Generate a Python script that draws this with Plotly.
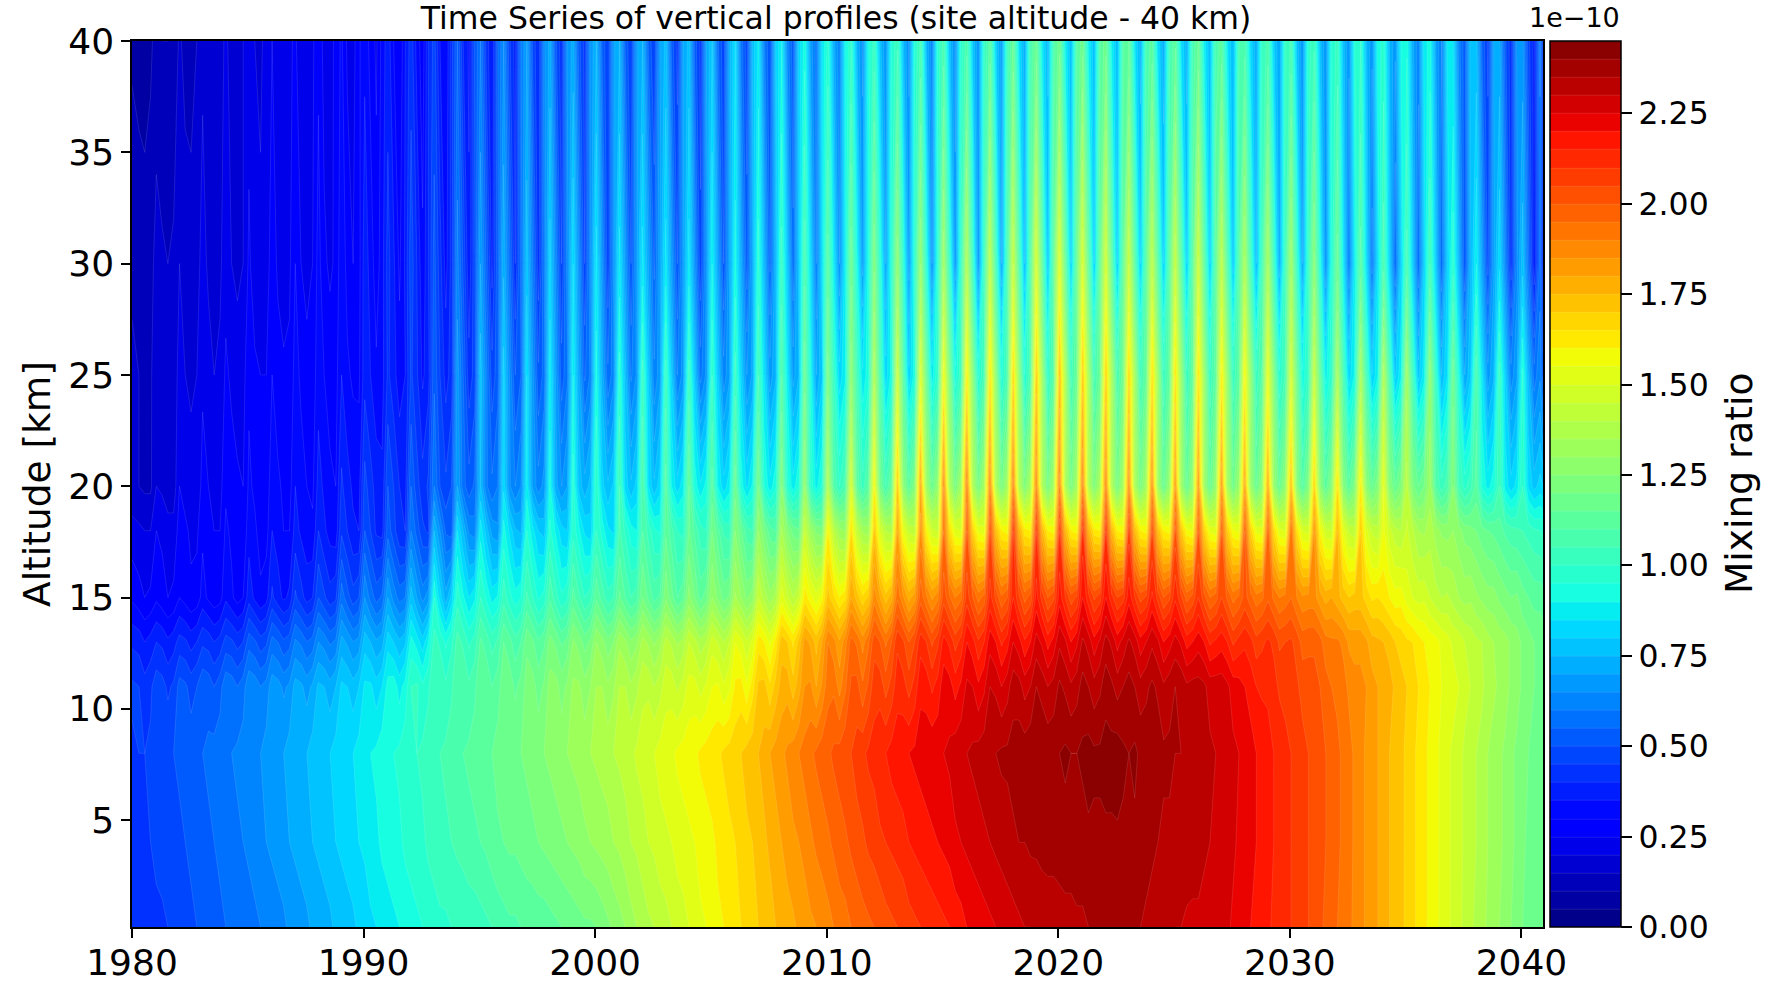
import plotly.graph_objects as go

title_text = "Time Series of vertical profiles (site altitude - 40 km)"
y_title = "Altitude [km]"
cb_title = "Mixing ratio"
cb_exp = "1e\u221210"
x_ticks = [1980, 1990, 2000, 2010, 2020, 2030, 2040]
y_ticks = [5, 10, 15, 20, 25, 30, 35, 40]
cb_ticks = [0, 0.25, 0.5, 0.75, 1.0, 1.25, 1.5, 1.75, 2.0, 2.25]

years = list(range(1980, 2041))
phases = [0.05, 0.30, 0.55, 0.80]
times = [y + p for y in years for p in phases] + [2040.93]
times[0] = 1980.0

altitudes = [0.2, 4, 8, 11, 13, 15, 18, 20, 25, 30, 40]

# values in units of 1e-12, four per year, 1980 -> 2040 plus the right edge
z_0km = [42,42,43,43, 44,44,45,46, 47,48,49,50, 51,52,53,54, 55,56,56,57, 58,59,60,61, 62,63,64,66, 67,68,69,71, 72,73,74,76, 77,78,79,81,
 82,84,85,87, 88,89,90,92, 93,94,95,97, 98,99,99,100, 101,101,102,102, 103,104,105,107, 108,109,109,110, 111,111,112,112, 113,114,115,116, 117,118,119,119,
 120,122,124,126, 128,130,133,135, 137,139,140,142, 143,145,147,148, 150,152,154,155, 157,159,160,162, 163,165,167,168, 170,172,173,175, 176,178,179,181, 182,184,185,187,
 188,190,192,193, 195,196,198,199, 200,201,203,204, 205,206,208,209, 210,211,212,213, 214,215,217,218, 220,221,222,223, 224,225,226,227, 228,229,230,230, 231,231,232,232,
 233,233,233,234, 234,235,235,235, 236,236,236,236, 236,235,235,234, 233,232,231,231, 230,230,229,229, 229,228,228,227, 227,226,224,223, 222,220,219,217, 216,214,213,211,
 210,208,206,205, 203,201,199,197, 195,193,191,189, 187,184,182,180, 177,175,173,171, 169,166,164,161, 159,156,154,151, 149,146,144,141, 139,137,134,132, 130,128,125,123,
 120,118,117,116, 115]
z_4km = [43,44,44,45, 46,47,48,48, 49,50,51,52, 53,54,55,56, 57,58,59,60, 61,62,63,65, 66,67,68,70, 71,72,73,75, 76,77,78,80, 81,82,83,85,
 86,88,89,91, 92,93,94,96, 97,98,99,101, 102,103,104,105, 106,107,108,109, 110,111,113,114, 115,116,116,117, 118,119,120,121, 122,123,124,125, 126,127,129,130,
 131,132,133,135, 136,138,140,141, 143,145,146,148, 149,150,152,153, 154,155,157,158, 159,161,162,164, 165,167,169,170, 172,174,176,178, 180,182,184,185, 187,189,191,192,
 194,196,198,199, 201,203,204,206, 207,209,210,211, 212,213,215,216, 217,218,219,220, 221,222,224,225, 226,227,228,229, 230,231,232,233, 234,235,235,236, 236,237,237,237,
 237,238,238,238, 238,239,239,239, 239,239,239,239, 239,239,238,237, 236,235,234,234, 233,233,233,232, 232,231,230,229, 228,227,226,224, 223,221,220,218, 217,215,214,212,
 210,209,207,205, 204,202,200,198, 196,194,192,189, 187,184,182,180, 177,175,173,171, 169,166,164,161, 159,156,154,151, 149,147,144,142, 140,138,135,133, 131,129,126,124,
 121,119,118,117, 116]
z_8km = [44,45,45,46, 47,48,49,50, 51,52,53,54, 55,56,57,58, 59,60,61,62, 63,64,65,67, 68,69,70,72, 73,74,75,77, 78,79,80,82, 83,84,85,87,
 88,90,91,93, 94,95,96,98, 99,100,101,103, 104,105,106,108, 109,110,111,112, 113,114,115,117, 118,119,119,120, 121,122,123,125, 126,127,128,130, 131,132,133,135,
 136,137,138,140, 141,142,144,146, 147,149,150,152, 153,154,156,157, 158,159,161,162, 163,164,166,167, 168,170,172,173, 175,177,180,182, 184,186,188,190, 192,194,196,198,
 199,201,202,204, 205,207,209,211, 212,214,215,217, 218,219,220,221, 222,223,224,224, 225,226,228,229, 230,231,232,233, 234,235,236,236, 237,238,238,239, 239,240,239,239,
 240,241,240,240, 241,242,241,241, 242,242,243,241, 240,241,239,238, 237,238,236,236, 235,235,234,233, 233,232,231,230, 229,228,226,225, 223,222,220,219, 217,215,214,212,
 210,209,207,205, 204,202,200,198, 196,194,192,189, 187,184,182,180, 177,175,173,171, 169,166,164,161, 159,156,154,151, 149,147,144,142, 140,138,135,133, 131,129,126,124,
 121,120,118,117, 116]
z_11km = [46,45,42,44, 48,47,44,46, 52,51,48,50, 54,53,50,53, 59,58,55,58, 64,63,60,62, 68,67,64,66, 72,71,68,71, 76,75,72,75, 81,80,77,80,
 86,86,82,85, 92,93,88,92, 100,101,96,99, 105,105,101,104, 110,110,106,109, 114,114,110,113, 118,118,114,117, 122,122,118,121, 127,127,123,126, 131,131,127,130,
 135,135,131,134, 140,140,136,139, 144,144,140,143, 148,148,144,147, 152,152,148,151, 155,156,151,154, 161,162,156,163, 171,172,166,172, 177,178,172,178, 185,186,180,186,
 193,194,188,194, 201,202,196,201, 208,208,203,207, 213,212,208,212, 219,218,214,217, 223,222,218,221, 226,225,221,224, 230,229,225,228, 233,232,228,230, 235,233,230,232,
 236,234,231,233, 237,235,232,234, 238,236,233,235, 237,235,232,234, 236,234,231,233, 235,234,231,232, 232,231,228,228, 228,226,223,222, 220,218,215,214, 214,212,209,208,
 208,206,203,202, 202,200,197,195, 194,192,189,187, 187,185,182,180, 179,177,174,172, 170,168,165,163, 160,158,155,153, 152,150,147,145, 143,141,138,136, 134,132,129,127,
 124,122,120,119, 118]
z_13km = [39,38,35,37, 40,39,36,38, 42,41,38,40, 44,43,40,42, 47,46,43,45, 53,51,47,49, 57,55,51,53, 61,59,55,57, 65,63,59,61, 72,69,65,67,
 78,75,71,73, 83,80,76,79, 92,88,82,90, 102,99,94,99, 107,104,99,102, 111,108,103,106, 115,112,107,110, 119,116,111,114, 122,119,114,117, 126,123,118,121,
 130,127,122,125, 134,131,126,129, 137,134,129,133, 142,139,134,137, 145,142,137,140, 148,145,140,145, 155,152,146,152, 163,160,154,162, 173,170,164,172, 182,179,173,180,
 190,187,181,188, 197,194,188,194, 203,200,194,200, 209,206,200,205, 213,210,204,209, 217,214,208,212, 220,217,211,215, 223,220,214,218, 225,222,216,220, 227,224,218,222,
 229,226,220,224, 231,228,222,226, 232,229,223,227, 231,228,222,225, 229,226,220,223, 227,224,218,220, 223,220,214,216, 218,215,209,212, 214,212,207,209, 211,209,204,205,
 206,203,198,199, 199,197,192,191, 191,189,184,183, 183,181,177,176, 175,173,170,168, 166,165,162,160, 158,157,154,152, 149,148,145,143, 141,140,137,135, 133,132,129,127,
 124,122,120,119, 118]
z_15km = [29,27,25,26, 29,27,25,26, 30,28,26,27, 32,29,27,28, 34,31,28,30, 38,34,31,33, 41,37,34,36, 46,42,38,40, 50,46,42,44, 58,52,47,50,
 65,58,53,56, 70,63,58,60, 78,70,63,68, 95,83,72,82, 98,91,85,89, 100,94,88,91, 103,97,92,95, 106,100,94,97, 109,102,96,99, 112,106,100,103,
 114,108,102,105, 116,110,105,108, 120,114,108,111, 124,117,110,114, 127,120,113,118, 130,124,118,121, 136,130,124,128, 145,138,132,137, 153,146,140,146, 163,157,152,158,
 172,166,160,164, 180,173,166,171, 188,180,172,178, 194,186,178,183, 198,191,184,189, 203,196,190,194, 208,200,193,197, 212,204,196,200, 215,206,198,202, 217,208,200,204,
 218,210,202,206, 220,212,204,208, 220,212,205,208, 218,210,203,206, 216,208,200,204, 214,206,198,202, 210,202,195,198, 205,199,193,196, 202,197,192,194, 199,194,190,192,
 195,190,186,187, 187,182,178,180, 177,173,170,172, 172,168,164,165, 163,160,157,158, 153,150,148,149, 145,142,140,141, 138,135,133,134, 131,129,127,127, 124,122,120,121,
 117,115,113,113, 112]
z_18km = [22,21,20,20, 25,24,22,22, 27,26,24,24, 29,27,25,25, 31,29,26,26, 33,31,28,28, 35,33,30,30, 37,34,32,31, 40,36,33,32, 44,40,36,35,
 50,45,39,38, 53,47,41,40, 60,53,46,44, 75,65,54,52, 85,75,64,62, 88,78,68,66, 92,84,76,74, 95,87,80,78, 96,89,82,80, 98,91,84,82,
 100,93,86,84, 106,99,92,90, 110,103,96,94, 114,107,100,98, 116,109,102,100, 120,112,104,102, 125,116,107,105, 130,121,112,110, 136,125,118,116, 145,132,124,122,
 160,141,132,130, 165,144,134,132, 172,150,140,138, 180,155,144,142, 187,160,147,145, 195,166,152,150, 200,169,154,152, 205,174,160,158, 210,178,162,160, 210,176,160,158,
 210,176,160,158, 212,178,162,160, 210,176,160,158, 208,175,160,158, 205,174,160,158, 202,172,157,155, 200,169,154,152, 200,170,156,154, 200,169,154,152, 198,167,152,150,
 195,165,150,148, 185,159,147,145, 175,154,144,142, 170,152,144,142, 156,147,142,140, 146,141,135,134, 138,133,129,128, 130,127,123,122, 120,117,115,114, 112,109,107,106,
 105,103,101,100, 99]
z_20km = [16,15,14,14, 20,19,17,17, 25,23,22,21, 27,25,24,23, 29,27,26,25, 31,29,28,27, 33,31,29,28, 35,32,30,29, 37,34,31,30, 41,37,34,33,
 47,42,38,36, 50,45,40,38, 55,47,42,46, 60,50,46,50, 70,57,52,56, 76,61,56,60, 84,66,60,65, 88,69,62,67, 92,72,65,70, 97,78,72,77,
 100,82,76,81, 105,83,76,82, 110,85,76,83, 112,90,82,88, 115,93,86,92, 112,90,82,88, 118,93,84,91, 120,95,87,94, 125,97,87,95, 130,99,88,96,
 138,110,100,108, 150,114,102,112, 160,119,105,116, 172,127,112,124, 182,133,116,129, 190,138,120,134, 192,138,120,134, 190,138,120,134, 192,140,122,136, 190,138,120,134,
 192,138,120,134, 192,140,122,136, 190,138,120,134, 188,137,120,134, 188,133,115,130, 185,133,115,129, 185,133,115,129, 185,135,118,131, 182,132,115,128, 180,131,115,128,
 175,126,110,123, 170,127,112,124, 165,125,112,123, 162,127,115,124, 155,125,115,123, 142,122,115,120, 132,110,102,108, 125,105,98,103, 112,94,88,93, 105,88,82,87,
 100,84,78,82, 80]
z_25km = [16,15,14,14, 19,17,16,17, 22,20,19,20, 24,22,20,21, 26,24,22,23, 29,26,25,25, 30,27,26,26, 32,29,27,27, 33,30,28,28, 35,31,29,29,
 38,35,31,33, 41,37,32,35, 46,41,34,38, 54,45,38,42, 68,55,42,47, 78,62,47,53, 82,65,50,55, 85,67,51,57, 88,69,52,59, 90,71,54,61,
 92,73,56,63, 97,77,59,66, 102,80,61,68, 102,80,60,67, 102,79,58,66, 100,80,62,69, 102,82,65,71, 105,85,67,74, 110,88,68,75, 118,93,70,79,
 122,101,82,89, 128,106,86,93, 138,108,82,92, 146,112,81,93, 152,118,87,99, 158,123,92,103, 162,126,94,106, 165,128,94,107, 168,129,95,108, 172,133,98,111,
 175,137,103,116, 172,136,104,116, 170,136,106,118, 168,134,103,115, 166,132,101,113, 165,131,101,113, 165,131,101,113, 162,130,101,112, 160,129,101,111, 155,124,96,106,
 150,119,91,101, 145,115,88,98, 136,107,82,91, 136,106,80,90, 138,107,79,89, 133,104,78,88, 128,100,75,85, 118,93,70,79, 108,86,67,74, 102,81,62,69,
 96,75,57,64, 52]
z_30km = [14,13,12,13, 17,16,15,16, 20,18,17,18, 22,19,18,19, 23,20,19,20, 26,22,21,22, 28,24,22,24, 30,25,23,25, 32,26,24,26, 34,28,25,28,
 38,33,27,33, 42,36,29,36, 48,40,31,40, 52,42,33,42, 62,49,36,49, 70,54,38,54, 74,57,40,57, 78,60,42,60, 82,63,45,63, 85,65,45,65,
 87,66,46,66, 87,68,50,68, 87,70,54,70, 87,68,50,68, 87,66,46,66, 90,70,50,70, 92,72,52,72, 97,75,54,75, 102,79,56,79, 108,84,60,84,
 112,88,65,88, 118,93,68,93, 124,97,70,97, 128,98,68,98, 130,97,65,97, 134,100,66,100, 138,102,66,102, 142,106,70,106, 145,110,75,110, 150,114,78,114,
 152,116,80,116, 150,115,80,115, 148,114,80,114, 145,112,80,112, 142,111,80,111, 144,112,80,112, 146,113,80,113, 142,110,78,110, 136,105,75,105, 135,103,72,103,
 133,101,70,101, 126,95,65,95, 117,88,60,88, 112,85,58,85, 108,81,55,81, 107,81,55,81, 105,80,55,80, 98,74,50,74, 90,69,48,69, 84,63,42,63,
 78,57,36,57, 42]
z_40km = [9,8,8,9, 12,10,10,11, 16,13,13,15, 19,16,15,18, 21,18,17,20, 23,20,19,22, 25,21,20,24, 26,21,20,24, 29,23,22,27, 31,24,23,29,
 34,28,24,32, 38,30,25,35, 43,33,27,40, 47,35,30,43, 55,40,34,51, 60,43,35,55, 65,46,38,60, 70,49,40,64, 72,51,42,66, 72,52,43,66,
 75,54,45,69, 75,54,45,69, 75,54,45,69, 77,53,43,70, 77,53,43,70, 80,56,46,73, 85,58,47,77, 87,61,50,80, 90,63,52,82, 93,68,58,86,
 97,72,62,90, 100,75,64,93, 102,77,66,95, 104,76,64,96, 106,75,62,97, 107,77,64,98, 108,79,66,100, 112,81,68,103, 116,85,72,107, 117,87,74,108,
 118,89,76,110, 118,89,76,110, 118,89,76,110, 115,86,73,107, 112,84,72,104, 114,85,73,106, 116,88,76,108, 112,86,75,105, 108,83,72,101, 107,81,70,100,
 106,78,66,98, 104,77,66,96, 102,77,66,95, 100,76,66,93, 97,75,66,91, 94,72,62,88, 92,70,60,86, 85,62,52,78, 77,54,44,70, 72,51,42,66,
 67,47,38,61, 45]

rows = [z_0km, z_4km, z_8km, z_11km, z_13km, z_15km, z_18km, z_20km, z_25km, z_30km, z_40km]
for r in rows:
    assert len(r) == len(times), len(r)
z = [[v / 100 for v in r] for r in rows]

jet = [[0, "rgb(0,0,127)"], [0.11, "rgb(0,0,255)"], [0.125, "rgb(0,0,255)"], [0.34, "rgb(0,219,255)"],
       [0.35, "rgb(0,230,247)"], [0.375, "rgb(21,255,226)"], [0.64, "rgb(239,255,8)"], [0.65, "rgb(247,245,0)"],
       [0.66, "rgb(255,236,0)"], [0.89, "rgb(255,19,0)"], [0.91, "rgb(232,0,0)"], [1, "rgb(127,0,0)"]]

fig = go.Figure(go.Contour(
    x=times, y=altitudes, z=z,
    colorscale=jet, zauto=False, zmin=0, zmax=2.45,
    autocontour=False,
    contours=dict(start=0, end=2.45, size=0.05, coloring="fill", showlines=True),
    line=dict(color="rgba(255,255,255,0.22)", width=0.5, smoothing=0),
    hoverinfo="skip",
    colorbar=dict(
        x=1.005, xanchor="left", xpad=0, y=0, yanchor="bottom", ypad=0, len=1, lenmode="fraction",
        thickness=71, thicknessmode="pixels",
        outlinewidth=1.5, outlinecolor="black",
        ticks="outside", ticklen=11, tickwidth=1.5, tickcolor="black",
        tickmode="array", tickvals=cb_ticks, ticktext=[f"{t:.2f}" for t in cb_ticks],
        tickfont=dict(family="DejaVu Sans", size=31.5, color="black"),
    ),
))

fig.update_layout(
    width=1765, height=1000, autosize=False,
    margin=dict(l=132, r=222, t=40.5, b=73, pad=0),
    paper_bgcolor="white", plot_bgcolor="white",
    title=dict(text=title_text, x=0.4737, xanchor="center", xref="container",
               y=1 - 18 / 1000, yanchor="middle", yref="container",
               font=dict(family="DejaVu Sans", size=31.5, color="black")),
    xaxis=dict(range=[1980, 2040.93], tickmode="array", tickvals=x_ticks, ticks="outside", ticklen=9, tickwidth=1.5,
               ticklabelstandoff=-6,
               tickcolor="black", showline=True, linecolor="black", linewidth=1.5, mirror=True, showgrid=False,
               zeroline=False, tickfont=dict(family="DejaVu Sans", size=36, color="black")),
    yaxis=dict(range=[0.2, 40], tickmode="array", tickvals=y_ticks, ticks="outside", ticklen=9, tickwidth=1.5,
               tickcolor="black", showline=True, linecolor="black", linewidth=1.5, mirror=True, showgrid=False,
               zeroline=False, tickfont=dict(family="DejaVu Sans", size=36, color="black"),
               title=dict(text=y_title, standoff=6, font=dict(family="DejaVu Sans", size=37.5, color="black"))),
    annotations=[
        dict(text=cb_exp, xref="paper", yref="paper", x=(1622 - 132) / 1411, y=1 + 6 / 886.5,
             xanchor="right", yanchor="bottom", showarrow=False,
             font=dict(family="DejaVu Sans", size=27, color="black")),
        dict(text=cb_title, xref="paper", yref="paper", x=(1739 - 132) / 1411, y=0.5, textangle=-90,
             xanchor="center", yanchor="middle", showarrow=False,
             font=dict(family="DejaVu Sans", size=37.5, color="black")),
    ],
)

fig.write_html("out.html", config={"displayModeBar": False},
               post_script="document.body.style.margin='0';document.documentElement.style.overflow='hidden';document.body.style.overflow='hidden';")
